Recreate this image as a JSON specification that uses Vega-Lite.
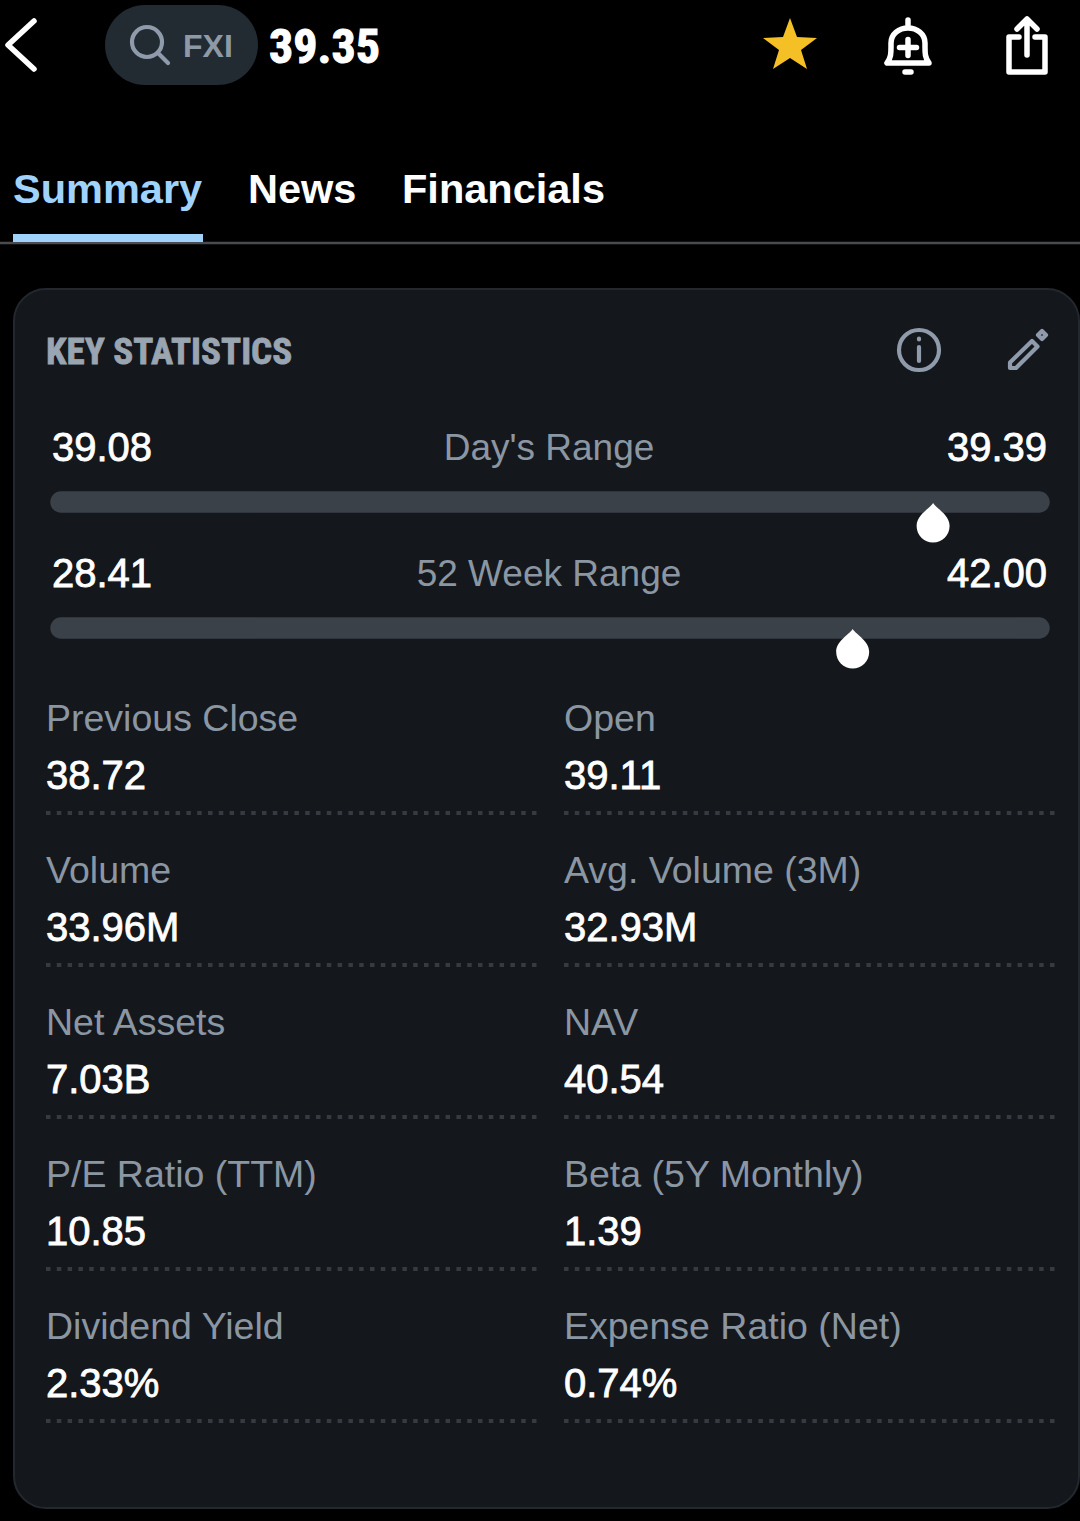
{
  "$schema": "https://vega.github.io/schema/vega-lite/v6.json",
  "autosize": {"type": "fit", "contains": "padding"},
  "width": 1080,
  "height": 1521,
  "padding": 0,
  "background": "#000000",
  "config": {
    "view": {"stroke": null},
    "axis": {"disable": true},
    "legend": {"disable": true},
    "text": {"font": "Liberation Sans", "baseline": "alphabetic"}
  },
  "datasets": {
    "header": [{"ticker": "FXI", "price": 39.35, "title": "KEY STATISTICS"}],
    "tabs": [
      {"tab": "Summary", "order": 0},
      {"tab": "News", "order": 1},
      {"tab": "Financials", "order": 2}
    ],
    "whiteIcons": [
      {"icon": "back", "order": 0},
      {"icon": "alert", "order": 1},
      {"icon": "share", "order": 2}
    ],
    "greyIcons": [
      {"icon": "search", "order": 0},
      {"icon": "info", "order": 1},
      {"icon": "edit", "order": 2}
    ],
    "sliders": [
      {"name": "Day's Range", "low": 39.08, "high": 39.39, "price": 39.354},
      {"name": "52 Week Range", "low": 28.41, "high": 42.00, "price": 39.354}
    ],
    "stats": [
      {"column": "left", "row": 1, "label": "Previous Close", "value": "38.72"},
      {"column": "right", "row": 1, "label": "Open", "value": "39.11"},
      {"column": "left", "row": 2, "label": "Volume", "value": "33.96M"},
      {"column": "right", "row": 2, "label": "Avg. Volume (3M)", "value": "32.93M"},
      {"column": "left", "row": 3, "label": "Net Assets", "value": "7.03B"},
      {"column": "right", "row": 3, "label": "NAV", "value": "40.54"},
      {"column": "left", "row": 4, "label": "P/E Ratio (TTM)", "value": "10.85"},
      {"column": "right", "row": 4, "label": "Beta (5Y Monthly)", "value": "1.39"},
      {"column": "left", "row": 5, "label": "Dividend Yield", "value": "2.33%"},
      {"column": "right", "row": 5, "label": "Expense Ratio (Net)", "value": "0.74%"}
    ]
  },
  "resolve": {"scale": {"x": "independent", "y": "independent", "color": "independent", "shape": "independent"}},
  "layer": [
    {
      "data": {"name": "header"},
      "mark": {"type": "rect", "fill": "#14171c", "stroke": "#23282f", "strokeWidth": 2, "cornerRadius": 32},
      "encoding": {
        "x": {"datum": 0, "type": "quantitative", "scale": {"domain": [0, 1], "range": [14, 1079]}},
        "x2": {"datum": 1},
        "y": {"datum": 0, "type": "quantitative", "scale": {"domain": [0, 1], "range": [289, 1508]}},
        "y2": {"datum": 1}
      }
    },
    {
      "data": {"name": "header"},
      "mark": {"type": "rect", "fill": "#222a32", "cornerRadius": 40},
      "encoding": {
        "x": {"datum": 0, "type": "quantitative", "scale": {"domain": [0, 1], "range": [105, 258]}},
        "x2": {"datum": 1},
        "y": {"datum": 0, "type": "quantitative", "scale": {"domain": [0, 1], "range": [5, 85]}},
        "y2": {"datum": 1}
      }
    },
    {
      "data": {"name": "header"},
      "mark": {"type": "rule", "stroke": "#4a4b50", "strokeWidth": 2.5, "clip": true},
      "encoding": {
        "x": {"datum": 0, "type": "quantitative", "scale": {"domain": [0, 1], "range": [0, 1080]}},
        "x2": {"datum": 1},
        "y": {"datum": 0, "type": "quantitative", "scale": {"domain": [0, 1], "range": [243, 244]}}
      }
    },
    {
      "data": {"name": "tabs"},
      "transform": [{"filter": {"field": "tab", "equal": "Summary"}}],
      "mark": {"type": "rect", "fill": "#9fd3fb"},
      "encoding": {
        "x": {"datum": 0, "type": "quantitative", "scale": {"domain": [0, 1], "range": [13, 203]}},
        "x2": {"datum": 1},
        "y": {"datum": 0, "type": "quantitative", "scale": {"domain": [0, 1], "range": [234, 242]}},
        "y2": {"datum": 1}
      }
    },
    {
      "data": {"name": "tabs"},
      "mark": {"type": "text", "align": "left", "fontSize": 41.5, "fontWeight": "bold"},
      "encoding": {
        "x": {"field": "order", "type": "quantitative", "scale": {"domain": [0, 1, 2], "range": [13, 248, 402]}},
        "y": {"field": "order", "type": "quantitative", "scale": {"domain": [0, 2], "range": [203, 203]}},
        "text": {"field": "tab"},
        "color": {"field": "tab", "type": "nominal", "scale": {"domain": ["Summary", "News", "Financials"], "range": ["#9fd3fb", "#ffffff", "#ffffff"]}}
      }
    },
    {
      "data": {"name": "header"},
      "mark": {"type": "text", "align": "left", "fontSize": 32, "fontWeight": "bold", "fill": "#8e99a6"},
      "encoding": {
        "x": {"field": "ticker", "type": "nominal", "scale": {"type": "point", "range": [183, 183]}},
        "y": {"field": "ticker", "type": "nominal", "scale": {"type": "point", "range": [57, 57]}},
        "text": {"field": "ticker"}
      }
    },
    {
      "data": {"name": "header"},
      "mark": {"type": "text", "align": "left", "font": "Roboto Condensed, Liberation Sans", "fontSize": 48, "fontWeight": "bold", "fill": "#ffffff", "stroke": "#ffffff", "strokeWidth": 1},
      "encoding": {
        "x": {"field": "price", "type": "quantitative", "scale": {"domain": [39.35, 40.35], "range": [269, 270]}},
        "y": {"field": "price", "type": "quantitative", "scale": {"domain": [39.35, 40.35], "range": [63, 64]}},
        "text": {"field": "price", "format": ".2f"}
      }
    },
    {
      "data": {"name": "header"},
      "mark": {"type": "text", "align": "left", "font": "Roboto Condensed, Liberation Sans", "fontSize": 37, "fontWeight": "bold", "fill": "#9aa5b2", "stroke": "#9aa5b2", "strokeWidth": 0.8},
      "encoding": {
        "x": {"field": "title", "type": "nominal", "scale": {"type": "point", "range": [46, 46]}},
        "y": {"field": "title", "type": "nominal", "scale": {"type": "point", "range": [364, 364]}},
        "text": {"field": "title"}
      }
    },
    {
      "data": {"name": "whiteIcons"},
      "mark": {"type": "point", "filled": false, "size": 4, "opacity": 1, "stroke": "#ffffff", "strokeWidth": 5.5, "strokeCap": "round", "strokeJoin": "round"},
      "encoding": {
        "x": {"field": "order", "type": "quantitative", "scale": {"domain": [0, 1, 2], "range": [21, 908, 1027]}},
        "y": {"field": "order", "type": "quantitative", "scale": {"domain": [0, 2], "range": [45, 45]}},
        "shape": {
          "field": "icon",
          "type": "nominal",
          "scale": {
            "domain": ["back", "alert", "share"],
            "range": [
              "M13,-24 L-13,0 L13,24",
              "M-21,18 L21,18 C17,13 17,8 17,2 L17,-2 C17,-11 9,-17 0,-17 C-9,-17 -17,-11 -17,-2 L-17,2 C-17,8 -17,13 -21,18 Z M0,-25 L0,-20 M-8.5,2.5 L8.5,2.5 M0,-5.5 L0,10.5 M-3,27 L3,27",
              "M-8,-8 L-18,-8 L-18,27 L18,27 L18,-8 L8,-8 M0,10 L0,-25 M-10,-16 L0,-26 L10,-16"
            ]
          }
        }
      }
    },
    {
      "data": {"name": "greyIcons"},
      "mark": {"type": "point", "filled": false, "size": 4, "opacity": 1, "stroke": "#8f9baa", "strokeWidth": 4.2, "strokeCap": "round", "strokeJoin": "round"},
      "encoding": {
        "x": {"field": "order", "type": "quantitative", "scale": {"domain": [0, 1, 2], "range": [150, 919, 1027]}},
        "y": {"field": "order", "type": "quantitative", "scale": {"domain": [0, 1, 2], "range": [44, 350, 350]}},
        "shape": {
          "field": "icon",
          "type": "nominal",
          "scale": {
            "domain": ["search", "info", "edit"],
            "range": [
              "M12,-2 A15,15 0 1 1 -18,-2 A15,15 0 1 1 12,-2 M8,9 L18,19",
              "M20,0 A20,20 0 1 1 -20,0 A20,20 0 1 1 20,0 M0,-3 L0,11 M0,-11.5 L0,-10.5",
              "M-17,18 L-17,12.5 L5,-9 L10.5,-3.5 L-11,18 Z M11,-15 L15,-19 L19,-15 L15,-11 Z"
            ]
          }
        }
      }
    },
    {
      "data": {"name": "header"},
      "mark": {"type": "point", "filled": true, "size": 4, "opacity": 1, "fill": "#f5c026", "shape": "M0,-27 L7,-8 L27,-7 L11,5 L17,24 L0,13 L-17,24 L-11,5 L-27,-7 L-7,-8 Z"},
      "encoding": {
        "x": {"field": "ticker", "type": "nominal", "scale": {"type": "point", "range": [790, 790]}},
        "y": {"field": "ticker", "type": "nominal", "scale": {"type": "point", "range": [45, 45]}}
      }
    },
    {
      "data": {"name": "sliders"},
      "mark": {"type": "rule", "stroke": "#3a4148", "strokeWidth": 21.5, "strokeCap": "round"},
      "encoding": {
        "x": {"datum": 0, "type": "quantitative", "scale": {"domain": [0, 1], "range": [61, 1039]}},
        "x2": {"datum": 1},
        "y": {"field": "name", "type": "nominal", "scale": {"type": "point", "padding": 0, "domain": ["Day's Range", "52 Week Range"], "range": [502, 628]}}
      }
    },
    {
      "data": {"name": "sliders"},
      "transform": [{"filter": {"field": "name", "equal": "Day's Range"}}],
      "mark": {"type": "point", "filled": true, "size": 4, "opacity": 1, "fill": "#ffffff", "shape": "M0,-20 C4,-14 16.5,-8 16.5,3 A16.5,16.5 0 1 1 -16.5,3 C-16.5,-8 -4,-14 0,-20 Z"},
      "encoding": {
        "x": {"field": "price", "type": "quantitative", "scale": {"domain": [39.08, 39.39], "range": [51, 1049]}},
        "y": {"field": "name", "type": "nominal", "scale": {"type": "point", "range": [523, 523]}}
      }
    },
    {
      "data": {"name": "sliders"},
      "transform": [{"filter": {"field": "name", "equal": "52 Week Range"}}],
      "mark": {"type": "point", "filled": true, "size": 4, "opacity": 1, "fill": "#ffffff", "shape": "M0,-20 C4,-14 16.5,-8 16.5,3 A16.5,16.5 0 1 1 -16.5,3 C-16.5,-8 -4,-14 0,-20 Z"},
      "encoding": {
        "x": {"field": "price", "type": "quantitative", "scale": {"domain": [28.41, 42.00], "range": [49, 1047]}},
        "y": {"field": "name", "type": "nominal", "scale": {"type": "point", "range": [649, 649]}}
      }
    },
    {
      "data": {"name": "sliders"},
      "mark": {"type": "text", "align": "left", "fontSize": 40, "fill": "#ffffff", "stroke": "#ffffff", "strokeWidth": 0.8},
      "encoding": {
        "x": {"datum": 0, "type": "quantitative", "scale": {"domain": [0, 1], "range": [52, 1047]}},
        "y": {"field": "name", "type": "nominal", "scale": {"type": "point", "padding": 0, "domain": ["Day's Range", "52 Week Range"], "range": [461, 587]}},
        "text": {"field": "low", "format": ".2f"}
      }
    },
    {
      "data": {"name": "sliders"},
      "mark": {"type": "text", "align": "right", "fontSize": 40, "fill": "#ffffff", "stroke": "#ffffff", "strokeWidth": 0.8},
      "encoding": {
        "x": {"datum": 1, "type": "quantitative", "scale": {"domain": [0, 1], "range": [52, 1047]}},
        "y": {"field": "name", "type": "nominal", "scale": {"type": "point", "padding": 0, "domain": ["Day's Range", "52 Week Range"], "range": [461, 587]}},
        "text": {"field": "high", "format": ".2f"}
      }
    },
    {
      "data": {"name": "sliders"},
      "mark": {"type": "text", "align": "center", "fontSize": 37, "fill": "#8b96a3"},
      "encoding": {
        "x": {"datum": 0.5, "type": "quantitative", "scale": {"domain": [0, 1], "range": [51, 1047]}},
        "y": {"field": "name", "type": "nominal", "scale": {"type": "point", "padding": 0, "domain": ["Day's Range", "52 Week Range"], "range": [460, 586]}},
        "text": {"field": "name"}
      }
    },
    {
      "data": {"name": "stats"},
      "mark": {"type": "text", "align": "left", "fontSize": 37.5, "fill": "#8b96a3"},
      "encoding": {
        "x": {"field": "column", "type": "nominal", "scale": {"type": "point", "padding": 0, "domain": ["left", "right"], "range": [46, 564]}},
        "y": {"field": "row", "type": "ordinal", "scale": {"type": "point", "padding": 0, "domain": [1, 2, 3, 4, 5], "range": [731, 1339]}},
        "text": {"field": "label"}
      }
    },
    {
      "data": {"name": "stats"},
      "mark": {"type": "text", "align": "left", "fontSize": 40, "fill": "#ffffff", "stroke": "#ffffff", "strokeWidth": 0.8},
      "encoding": {
        "x": {"field": "column", "type": "nominal", "scale": {"type": "point", "padding": 0, "domain": ["left", "right"], "range": [46, 564]}},
        "y": {"field": "row", "type": "ordinal", "scale": {"type": "point", "padding": 0, "domain": [1, 2, 3, 4, 5], "range": [789, 1397]}},
        "text": {"field": "value"}
      }
    },
    {
      "data": {"name": "stats"},
      "transform": [{"filter": {"field": "column", "equal": "left"}}],
      "mark": {"type": "rule", "stroke": "#373b41", "strokeWidth": 4, "strokeDash": [4.5, 6.3]},
      "encoding": {
        "x": {"datum": 0, "type": "quantitative", "scale": {"domain": [0, 1], "range": [46, 537]}},
        "x2": {"datum": 1},
        "y": {"field": "row", "type": "ordinal", "scale": {"type": "point", "padding": 0, "domain": [1, 2, 3, 4, 5], "range": [813, 1421]}}
      }
    },
    {
      "data": {"name": "stats"},
      "transform": [{"filter": {"field": "column", "equal": "right"}}],
      "mark": {"type": "rule", "stroke": "#373b41", "strokeWidth": 4, "strokeDash": [4.5, 6.3]},
      "encoding": {
        "x": {"datum": 0, "type": "quantitative", "scale": {"domain": [0, 1], "range": [564, 1056]}},
        "x2": {"datum": 1},
        "y": {"field": "row", "type": "ordinal", "scale": {"type": "point", "padding": 0, "domain": [1, 2, 3, 4, 5], "range": [813, 1421]}}
      }
    }
  ]
}
